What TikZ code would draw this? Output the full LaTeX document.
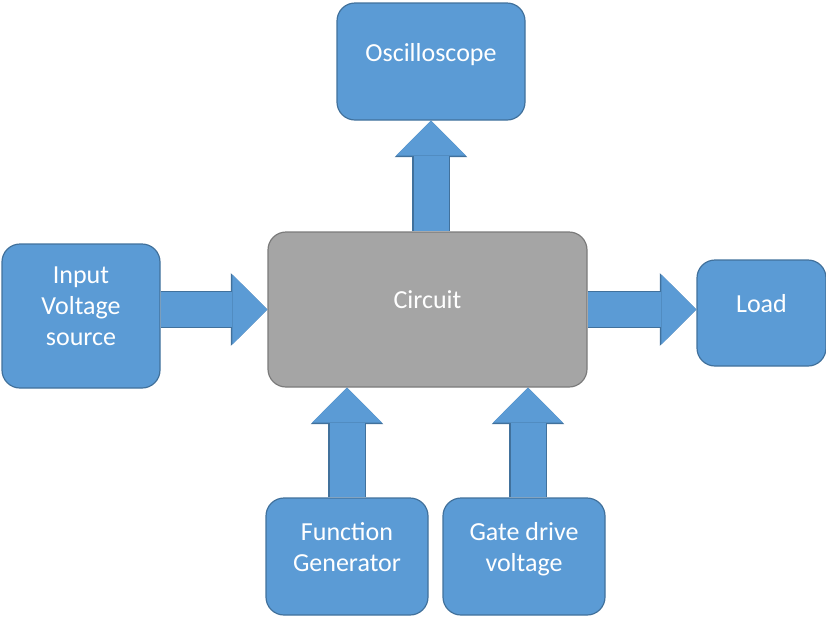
\documentclass[tikz,border=0pt]{standalone}
\usepackage{fontspec}
\setmainfont{Carlito}
\usepackage{tikz}
\usetikzlibrary{arrows.meta}
\definecolor{boxblue}{HTML}{5B9BD5}
\definecolor{edgeblue}{HTML}{41719C}
\definecolor{boxgray}{HTML}{A5A5A5}
\definecolor{edgegray}{HTML}{7B7B7B}
\tikzstyle{block} = [rectangle, rounded corners=9pt, align=center, text=white, draw=edgeblue, fill=boxblue, line width=0.6pt, font=\fontsize{13}{15.5}\selectfont, text depth=9.5pt]
\tikzstyle{core} = [block, fill=boxgray, draw=edgegray]
\tikzstyle{flow} = [line width=17.5pt, draw=boxblue, -{Triangle[length=17.5pt, width=35pt, line width=0pt]}, preaction={draw=edgeblue, line width=18.7pt, -{Triangle[length=18.3pt, width=36.4pt, line width=0pt]}}]

\begin{document}
\begin{tikzpicture}[x=0.5pt, y=-0.5pt]
    \useasboundingbox (0,0) rectangle (826,618);
    \node (circuit) [core, minimum width=159.5pt, minimum height=77.5pt] at (427.5,309.5) {Circuit};
    \node (scope) [block, minimum width=94pt, minimum height=58.5pt, above of=circuit, node distance=124pt, xshift=1.75pt] {Oscilloscope};
    \node (source) [block, minimum width=79pt, minimum height=72pt, left of=circuit, node distance=173.25pt, yshift=-3.25pt] {Input\\Voltage\\source};
    \node (load) [block, minimum width=64.5pt, minimum height=53pt, right of=circuit, node distance=167pt, yshift=-1.75pt] {Load};
    \node (fgen) [block, minimum width=81pt, minimum height=58.5pt, below of=circuit, node distance=123.5pt, xshift=-40.25pt] {Function\\Generator};
    \node (gate) [block, minimum width=81pt, minimum height=58.5pt, right of=fgen, node distance=88.5pt] {Gate drive\\voltage};
    \draw [flow] (circuit.west -| source.east) -- (circuit.west);
    \draw [flow] (circuit.east) -- (circuit.east -| load.west);
    \draw [flow] (circuit.north -| scope.south) -- (scope.south);
    \draw [flow] (fgen.north) -- (fgen.north |- circuit.south);
    \draw [flow] ([xshift=2pt]gate.north) -- ([xshift=2pt]gate.north |- circuit.south);
\end{tikzpicture}
\end{document}
